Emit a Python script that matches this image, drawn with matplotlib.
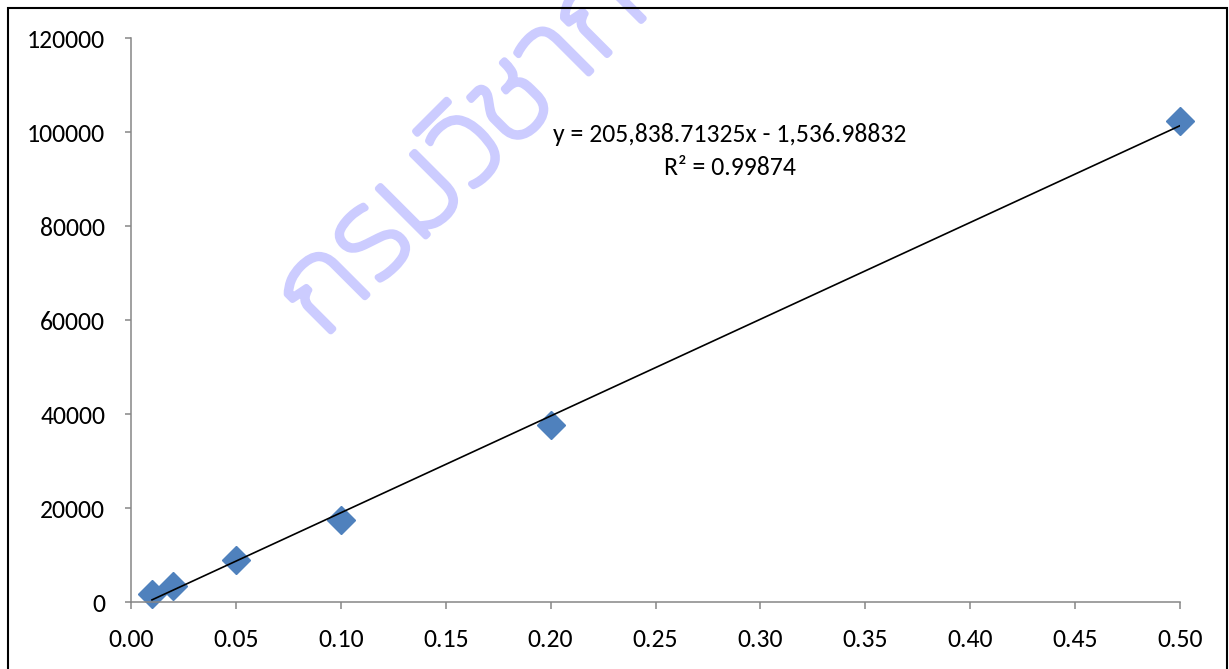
import numpy as np
import matplotlib
matplotlib.use("Agg")
import matplotlib.pyplot as plt
import matplotlib.patheffects as pe
from matplotlib.patches import Rectangle

plt.rcParams['font.family'] = ['Carlito', 'Lato', 'DejaVu Sans']

# Data
conc = [0.01, 0.02, 0.05, 0.10, 0.20, 0.50]
area = [1700, 3400, 8950, 17500, 37700, 102300]
x_ticks = [0.00, 0.05, 0.10, 0.15, 0.20, 0.25, 0.30, 0.35, 0.40, 0.45, 0.50]
y_ticks = [0, 20000, 40000, 60000, 80000, 100000, 120000]
equation_text = "y = 205,838.71325x - 1,536.98832\nR² = 0.99874"
watermark_text = "กรมวิชาการเกษตร"

W, H = 1229, 669
fig = plt.figure(figsize=(W / 100, H / 100), dpi=100)
fig.patch.set_facecolor('white')

ax = fig.add_axes([131 / W, (H - 602) / H, (1180 - 131) / W, (602 - 38) / H])
ax.set_xlim(0, 0.5)
ax.set_ylim(0, 120000)
ax.patch.set_alpha(0)

# watermark (behind everything)
fig.text(322 / W, (H - 340) / H, watermark_text, rotation=45, rotation_mode='anchor',
         ha='left', va='baseline', fontsize=90, fontweight='light', color='#CCCCFF',
         family=['Kanit', 'Prompt', 'Anuphan', 'Athiti', 'DejaVu Sans'], zorder=0,
         path_effects=[pe.withStroke(linewidth=4.5, foreground='#CCCCFF')])

# trendline from least-squares fit
slope, intercept = np.polyfit(conc, area, 1)
xs = np.array([min(conc), max(conc)])
ax.plot(xs, slope * xs + intercept, color='black', lw=1.2, zorder=3)

ax.plot(conc, area, linestyle='none', marker='D', markersize=14,
        markerfacecolor='#4F81BD', markeredgecolor='#4F81BD', zorder=2, clip_on=False)

ax.set_xticks(x_ticks)
ax.set_xticklabels([f"{v:.2f}" for v in x_ticks])
ax.set_yticks(y_ticks)
ax.set_yticklabels([str(v) for v in y_ticks])

for s in ['top', 'right']:
    ax.spines[s].set_visible(False)
for s in ['left', 'bottom']:
    ax.spines[s].set_color('#868686')
    ax.spines[s].set_linewidth(1.1)
ax.tick_params(axis='both', colors='#868686', labelcolor='black', width=1.1,
               labelsize=18.5)
ax.tick_params(axis='y', length=4.5, pad=14)
ax.tick_params(axis='x', length=5, pad=14)

ax.text(730 / W, (H - 151) / H, equation_text, transform=fig.transFigure,
        ha='center', va='center', fontsize=18.5, linespacing=1.5, color='black')

# outer chart-area border
fig.patches.append(Rectangle((8 / W, -0.05), (1227 - 8) / W, (H - 8) / H + 0.05,
                             transform=fig.transFigure, fill=False, edgecolor='black',
                             linewidth=1.5, zorder=5))

fig.savefig('out.png', dpi=100)
